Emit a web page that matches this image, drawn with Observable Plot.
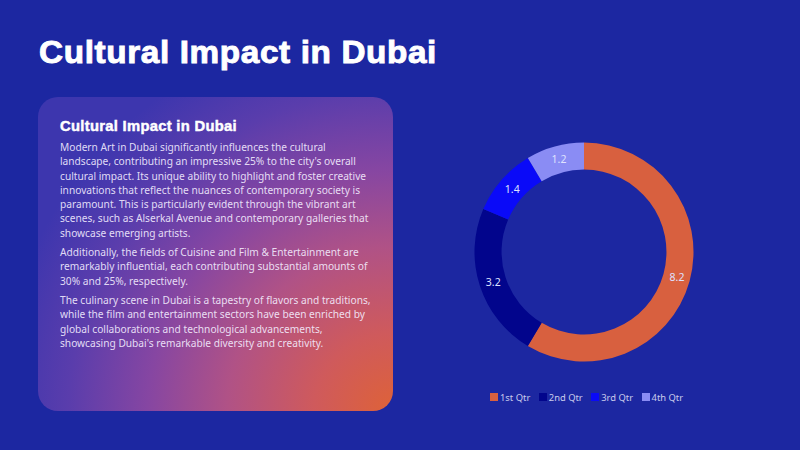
<!DOCTYPE html>
<html>
<head>
<meta charset="utf-8">
<script src="https://cdn.jsdelivr.net/npm/d3@7"></script>
<script src="https://cdn.jsdelivr.net/npm/@observablehq/plot@0.6"></script>
<style>
  html, body { margin: 0; padding: 0; }
  body { width: 800px; height: 450px; overflow: hidden; position: relative; background: #1c27a1; }
  #title { position: absolute; left: 39px; top: 36.5px; margin: 0; font: 700 31px/1 "Liberation Sans", Arial, sans-serif; color: #fff; white-space: nowrap; -webkit-text-stroke: 0.9px #fff; letter-spacing: 0.6px; transform-origin: 0 50%; }
  #panel { position: absolute; left: 38px; top: 97px; width: 355px; height: 314px; border-radius: 20px;
    background: radial-gradient(ellipse 395px 390px at 100% 100%, #de6238 0%, #cf5a5c 20%, #b05286 42%, #8646a2 62%, #5a3dac 82%, #3d36ae 100%); }
  #ph { position: absolute; left: 60px; top: 118.7px; margin: 0; font: 700 14.5px/1 "Liberation Sans", Arial, sans-serif; color: #fff; white-space: nowrap; -webkit-text-stroke: 0.45px #fff; letter-spacing: 0.3px; transform-origin: 0 50%; }
  #body { position: absolute; left: 60px; top: 140px; color: rgba(244,238,255,0.9); font-family: "Noto Sans", "Open Sans", sans-serif; font-size: 11px; }
  #body .p { margin-bottom: 5px; }
  #body .l { display: block; white-space: nowrap; height: 14.3px; line-height: 14.3px; }
  #body .l span { display: inline-block; }
  #chart { position: absolute; left: 454px; top: 132px; }
  #legend { position: absolute; left: 490px; top: 388px; }
  #legend .lg-swatches { font-family: "Noto Sans", sans-serif !important; font-size: 9.4px !important; color: #c9cbec !important; margin: 0 !important; min-height: 18px !important; display: flex; align-items: center; }
  #legend .lg-swatch { margin-right: 8.5px !important; }
  #legend .lg-swatch > svg { margin-right: 2px !important; }
</style>
</head>
<body>
<h1 id="title">Cultural Impact in Dubai</h1>
<div id="panel"></div>
<h2 id="ph">Cultural Impact in Dubai</h2>
<div id="body"></div>
<div id="chart"></div>
<div id="legend"></div>
<script>
// ---- data ----
const quarters = ["1st Qtr", "2nd Qtr", "3rd Qtr", "4th Qtr"];
const sales = [8.2, 3.2, 1.4, 1.2];
const quarterColors = ["#d8603f", "#02058c", "#0a0af8", "#8a8cf4"];

const paragraphs = [
  ["Modern Art in Dubai significantly influences the cultural",
   "landscape, contributing an impressive 25% to the city's overall",
   "cultural impact. Its unique ability to highlight and foster creative",
   "innovations that reflect the nuances of contemporary society is",
   "paramount. This is particularly evident through the vibrant art",
   "scenes, such as Alserkal Avenue and contemporary galleries that",
   "showcase emerging artists."],
  ["Additionally, the fields of Cuisine and Film & Entertainment are",
   "remarkably influential, each contributing substantial amounts of",
   "30% and 25%, respectively."],
  ["The culinary scene in Dubai is a tapestry of flavors and traditions,",
   "while the film and entertainment sectors have been enriched by",
   "global collaborations and technological advancements,",
   "showcasing Dubai's remarkable diversity and creativity."]
];

// ---- text panel ----
const body = document.getElementById("body");
for (const p of paragraphs) {
  const pd = document.createElement("div");
  pd.className = "p";
  for (const line of p) {
    const ld = document.createElement("div");
    ld.className = "l";
    const s = document.createElement("span");
    s.textContent = line;
    ld.appendChild(s);
    pd.appendChild(ld);
  }
  body.appendChild(pd);
}
// fit body font so first line matches the reference width
const first = body.querySelector(".l span");
const w1 = first.getBoundingClientRect().width;
body.style.fontSize = (11 * 266 / w1) + "px";

function fitWidth(el, target) {
  el.style.display = "inline-block";
  const w = el.getBoundingClientRect().width;
  el.style.transform = `scaleX(${target / w})`;
}
fitWidth(document.getElementById("title"), 398);
fitWidth(document.getElementById("ph"), 177);

// ---- donut ----
const rows = quarters.map((q, i) => ({quarter: q, value: sales[i]}));
const pie = d3.pie().sort(null).value(d => d.value)(rows);
const INNER = 0.753;
const MID = (1 + INNER) / 2;
const colorOpts = {domain: quarters, range: quarterColors};
const colorScale = Plot.scale({color: colorOpts});
const midAngle = d => (d.startAngle + d.endAngle) / 2;

const chart = Plot.plot({
  width: 260,
  height: 240,
  margin: 0,
  style: {background: "transparent", overflow: "visible"},
  x: {domain: [-1, 1], range: [20.5, 239.5], axis: null},
  y: {domain: [-1, 1], range: [229.5, 10.5], axis: null},
  color: colorOpts,
  marks: [
    (index, scales) => {
      const cx = scales.x(0), cy = scales.y(0), R = scales.x(1) - cx;
      const arc = d3.arc().innerRadius(R * INNER).outerRadius(R);
      const color = scales.color ?? (v => colorScale.apply(v));
      const g = d3.create("svg:g").attr("transform", `translate(${cx},${cy})`);
      g.selectAll("path").data(pie).join("path")
        .attr("d", arc)
        .attr("fill", d => color(d.data.quarter));
      return g.node();
    },
    Plot.text(pie, {
      x: d => MID * Math.sin(midAngle(d)),
      y: d => MID * Math.cos(midAngle(d)),
      text: d => String(d.data.value),
      fill: "#dfe2ff",
      fontSize: 10.5,
      fontFamily: "Noto Sans, sans-serif"
    })
  ]
});
document.getElementById("chart").appendChild(chart);

const legend = Plot.legend({color: colorOpts, legend: "swatches", swatchSize: 8, className: "lg"});
document.getElementById("legend").appendChild(legend);
</script>
</body>
</html>
